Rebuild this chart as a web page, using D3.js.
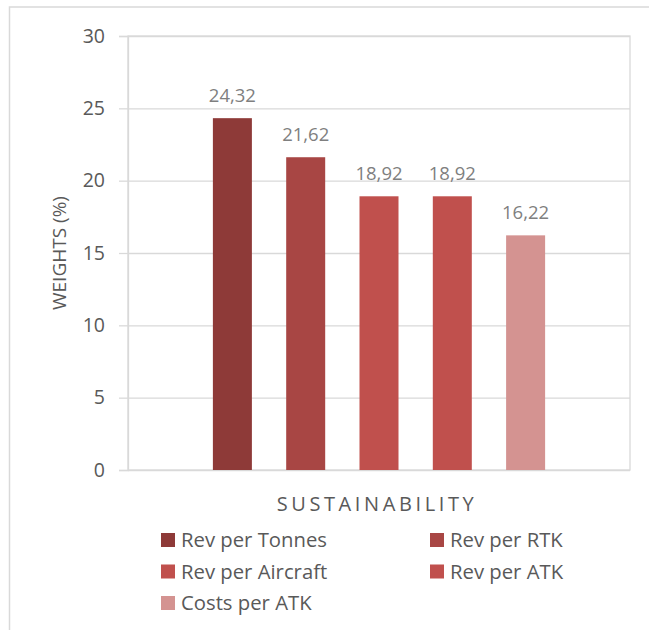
<!DOCTYPE html>
<html>
<head>
<meta charset="utf-8">
<script src="https://cdn.jsdelivr.net/npm/d3@7"></script>
<style>
  html, body { margin: 0; padding: 0; background: #fff; }
  svg { display: block; }
  text { font-family: "Open Sans", "DejaVu Sans", sans-serif; }
</style>
</head>
<body>
<svg id="chart" width="649" height="630"></svg>
<script>
// Chart data
const categories = ["SUSTAINABILITY"];
const seriesNames = ["Rev per Tonnes", "Rev per RTK", "Rev per Aircraft", "Rev per ATK", "Costs per ATK"];
const seriesValues = [24.32, 21.62, 18.92, 18.92, 16.22];
const yTicks = [0, 5, 10, 15, 20, 25, 30];
const yTitle = "WEIGHTS (%)";

// Series fills (shades of one red)
const seriesColors = ["#8E3A38", "#A84644", "#C0504D", "#C0504D", "#D49391"];

const W = 649, H = 630;
const plot = { left: 128, right: 630, top: 36, bottom: 470 };
const gridColor = "#D9D9D9";

const svg = d3.select("#chart");

// Chart area frame
svg.append("rect")
  .attr("x", 9.5).attr("y", 7)
  .attr("width", 800).attr("height", 800)
  .attr("fill", "#fff")
  .attr("stroke", gridColor).attr("stroke-width", 1.5);

const y = d3.scaleLinear().domain([0, 30]).range([plot.bottom, plot.top]);
const x0 = d3.scaleBand().domain(categories).range([plot.left, plot.right]);
const x1 = d3.scaleBand().domain(seriesNames)
  .range([0, x0.bandwidth()])
  .paddingInner(0.468).paddingOuter(1.158);
const color = d3.scaleOrdinal().domain(seriesNames).range(seriesColors);

// Horizontal gridlines
svg.append("g")
  .attr("transform", `translate(${plot.left},0)`)
  .call(d3.axisLeft(y).tickValues(yTicks).tickSize(-(plot.right - plot.left)).tickFormat(""))
  .call(g => g.select(".domain").remove())
  .call(g => g.selectAll("line").attr("stroke", gridColor).attr("stroke-width", 1.3));

// Plot area border
svg.append("rect")
  .attr("x", plot.left).attr("y", plot.top)
  .attr("width", plot.right - plot.left).attr("height", plot.bottom - plot.top)
  .attr("fill", "none").attr("stroke", gridColor).attr("stroke-width", 1.3);

// Y axis with outside tick marks
const yAxis = svg.append("g")
  .attr("transform", `translate(${plot.left},0)`)
  .call(d3.axisLeft(y).tickValues(yTicks).tickSize(9).tickPadding(14).tickFormat(d3.format("d")));
yAxis.select(".domain").attr("stroke", gridColor).attr("stroke-width", 1.3);
yAxis.selectAll(".tick line").attr("stroke", gridColor).attr("stroke-width", 1.3);
yAxis.selectAll(".tick text")
  .attr("fill", "#595959")
  .style("font-size", "19.5px")
  .style("font-family", "'Open Sans', sans-serif");

// Bars
const fmt = d3.formatLocale({ decimal: ",", thousands: ".", grouping: [3], currency: ["", ""] }).format(".2f");
const grp = svg.append("g").selectAll("g")
  .data(categories).join("g")
  .attr("transform", d => `translate(${x0(d)},0)`);

grp.selectAll("rect")
  .data(() => seriesNames.map((name, i) => ({ name, value: seriesValues[i] })))
  .join("rect")
  .attr("x", d => x1(d.name))
  .attr("width", x1.bandwidth())
  .attr("y", d => y(d.value))
  .attr("height", d => y(0) - y(d.value))
  .attr("fill", d => color(d.name));

// Value labels
grp.selectAll("text.val")
  .data(() => seriesNames.map((name, i) => ({ name, value: seriesValues[i] })))
  .join("text")
  .attr("class", "val")
  .attr("x", d => x1(d.name) + x1.bandwidth() / 2)
  .attr("y", d => y(d.value) - 16)
  .attr("text-anchor", "middle")
  .attr("fill", "#7F7F7F")
  .style("font-size", "18.5px")
  .text(d => fmt(d.value));

// Category label under the axis
svg.append("text")
  .attr("x", (plot.left + plot.right) / 2 - 2)
  .attr("y", 511)
  .attr("text-anchor", "middle")
  .attr("fill", "#595959")
  .style("font-size", "20px")
  .style("letter-spacing", "3.6px")
  .text(categories[0]);

// Y axis title
svg.append("text")
  .attr("transform", `translate(66,${(plot.top + plot.bottom) / 2}) rotate(-90)`)
  .attr("text-anchor", "middle")
  .attr("fill", "#595959")
  .style("font-size", "19px")
  .text(yTitle);

// Legend: two columns, three rows
const legendCols = [161, 430];
const legendRows = [540, 571.5, 603];
const legend = svg.append("g").selectAll("g")
  .data(seriesNames).join("g")
  .attr("transform", (d, i) => `translate(${legendCols[i % 2]},${legendRows[Math.floor(i / 2)]})`);
legend.append("rect")
  .attr("x", 0).attr("y", -7)
  .attr("width", 14).attr("height", 14)
  .attr("fill", d => color(d));
legend.append("text")
  .attr("x", 20).attr("y", 0)
  .attr("dy", "0.35em")
  .attr("fill", "#595959")
  .style("font-size", "20.3px")
  .text(d => d);
</script>
</body>
</html>
